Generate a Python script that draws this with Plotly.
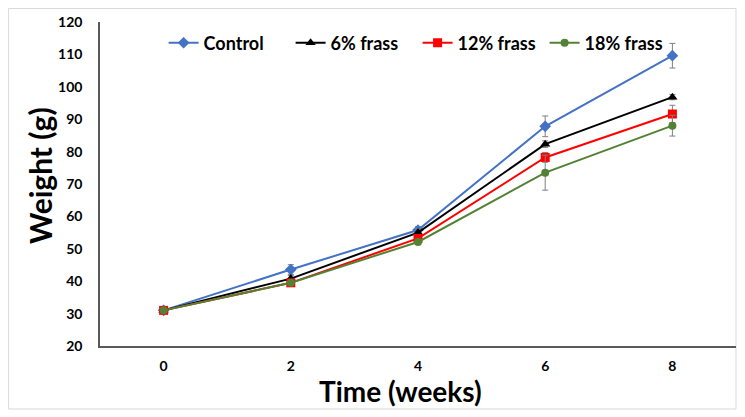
import plotly.graph_objects as go

weeks = [0, 2, 4, 6, 8]
control = [31.0, 43.6, 55.8, 87.8, 109.6]
frass6 = [31.0, 40.8, 55.0, 82.3, 96.8]
frass12 = [31.0, 39.5, 53.2, 78.2, 91.6]
frass18 = [31.0, 39.5, 52.1, 73.5, 88.0]
err_control = [0.5, 1.5, 1.0, 3.2, 3.8]
err_6 = [0.5, 1.0, 1.2, 1.0, 0.8]
err_12 = [0.5, 0.8, 1.0, 1.5, 2.7]
err_18 = [0.5, 0.8, 0.8, 5.4, 3.2]

series = [
    ("Control", control, err_control, "#4472C4", "diamond", 9),
    ("6% frass", frass6, err_6, "#000000", "triangle-up", 9),
    ("12% frass", frass12, err_12, "#FF0000", "square", 9),
    ("18% frass", frass18, err_18, "#548235", "circle", 8),
]

FONT = "Lato"
fig = go.Figure()
for name, vals, err, color, sym, size in series:
    fig.add_trace(go.Scatter(
        x=weeks, y=vals, name=name, mode="lines+markers",
        line=dict(color=color, width=2),
        marker=dict(symbol=sym, size=size, color=color),
        error_y=dict(type="data", array=err, visible=True, color="#7F7F7F",
                     thickness=1, width=3),
    ))

fig.update_layout(
    width=745, height=417,
    margin=dict(l=92, r=17, t=14, b=79, autoexpand=False),
    paper_bgcolor="white", plot_bgcolor="white",
    font=dict(family=FONT, color="black"),
    legend=dict(orientation="h", x=0.1, y=0.935, xanchor="left", yanchor="middle",
                font=dict(size=18, family=FONT, weight="bold"),
                itemwidth=30, entrywidth=82, entrywidthmode="pixels",
                tracegroupgap=0,
                bgcolor="rgba(0,0,0,0)"),
    showlegend=True,
)
fig.update_xaxes(
    range=[-1, 9], tickvals=weeks, ticktext=[str(w) for w in weeks],
    showgrid=False, zeroline=False, showline=True, linecolor="#595959", linewidth=1.5,
    ticks="", ticklabelstandoff=6, automargin=False,
    tickfont=dict(size=14, family=FONT, weight="bold"),
)
fig.update_yaxes(
    range=[20, 120], dtick=10,
    showgrid=False, zeroline=False, showline=True, linecolor="#595959", linewidth=1.5,
    ticks="", ticklabelstandoff=13, automargin=False,
    tickfont=dict(size=14, family=FONT, weight="bold"),
)
fig.add_annotation(text="Time (weeks)", xref="paper", yref="paper",
                   x=0.4717, y=-0.138, xanchor="center", yanchor="middle",
                   showarrow=False, font=dict(size=28, family=FONT, weight="bold"))
fig.add_annotation(text="Weight (g)", xref="paper", yref="paper",
                   x=-0.0943, y=0.5247, xanchor="center", yanchor="middle", textangle=-90,
                   showarrow=False, font=dict(size=30, family=FONT, weight="bold"))
fig.add_shape(type="rect", xref="paper", yref="paper",
              x0=-0.1440, x1=1.0, y0=-0.1944, y1=1.0417,
              line=dict(color="#D9D9D9", width=1), fillcolor="rgba(0,0,0,0)", layer="below")

fig.write_html("out.html")
